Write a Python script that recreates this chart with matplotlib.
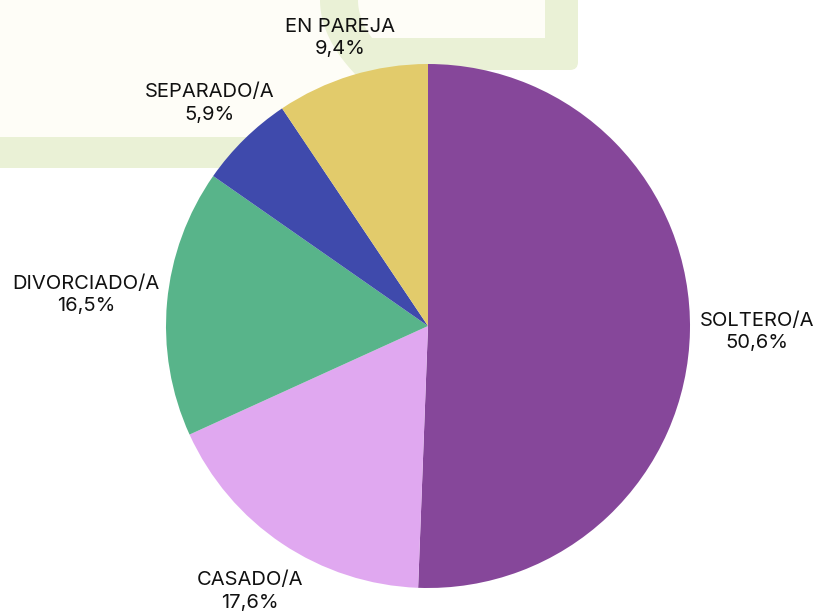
import numpy as np
import matplotlib
matplotlib.use("Agg")
import matplotlib.pyplot as plt
from matplotlib.patches import Polygon, FancyBboxPatch, Rectangle

# ---- data ----
categories = ["SOLTERO/A", "CASADO/A", "DIVORCIADO/A", "SEPARADO/A", "EN PAREJA"]
values = [50.6, 17.6, 16.5, 5.9, 9.4]
value_labels = ["50,6%", "17,6%", "16,5%", "5,9%", "9,4%"]

# ---- style ----
colors = ["#86479a", "#e0a8f0", "#58b48a", "#3f4aac", "#e2cb6b"]
label_dist = [1.255, 1.22, 1.31, 1.19, 1.15]
GREEN = "#eaf1d6"
CREAM = "#fefdf7"

plt.rcParams['font.family'] = ['Inter', 'DejaVu Sans']

W, H = 815, 612
fig = plt.figure(figsize=(W / 100, H / 100), dpi=100)
fig.patch.set_facecolor("white")

# background decoration (pixel coordinates)
bg = fig.add_axes([0, 0, 1, 1], zorder=0)
bg.set_xlim(0, W)
bg.set_ylim(H, 0)
bg.axis("off")
bg.add_patch(Rectangle((-10, -10), 390, 178, facecolor=GREEN, edgecolor="none"))
bg.add_patch(FancyBboxPatch((300, -20), 278, 90, boxstyle="round,pad=0,rounding_size=8",
                            facecolor=GREEN, edgecolor="none"))
ys = np.linspace(0, 137, 60)
left_edge = 320 + 0.0064 * ys ** 2
pts = [(-10, -10)] + [(320, -10)] + list(zip(left_edge, ys)) + [(-10, 137)]
bg.add_patch(Polygon(pts, closed=True, facecolor=CREAM, edgecolor="none"))
ys2 = np.linspace(0, 38, 30)
right_edge = 358 + 0.0097 * ys2 ** 2
pts2 = [(358, -10)] + list(zip(right_edge, ys2)) + [(545, 38), (545, -10)]
bg.add_patch(Polygon(pts2, closed=True, facecolor=CREAM, edgecolor="none"))

# pie axes: center (428, 326) px, radius 262 px
cx, cy, r = 428, 326, 262
ax = fig.add_axes([(cx - r) / W, (H - cy - r) / H, 2 * r / W, 2 * r / H], zorder=1)
ax.set_xlim(-1, 1)
ax.set_ylim(-1, 1)
ax.axis("off")
wedges, _ = ax.pie(values, colors=colors, startangle=90, counterclock=False,
                   radius=1, wedgeprops=dict(linewidth=0))
ax.set_xlim(-1, 1)
ax.set_ylim(-1, 1)
ax.set_aspect("auto")

total = sum(values)
start = 90.0
for i, (cat, v, vl) in enumerate(zip(categories, values, value_labels)):
    ang = start - v / total * 360 / 2
    start -= v / total * 360
    a = np.deg2rad(ang)
    d = label_dist[i]
    ax.text(d * np.cos(a), d * np.sin(a), f"{cat}\n{vl}", ha="center", va="center",
            fontsize=14.5, color="#111111", linespacing=1.3, clip_on=False)

fig.savefig("out.png", dpi=100, facecolor="white")
